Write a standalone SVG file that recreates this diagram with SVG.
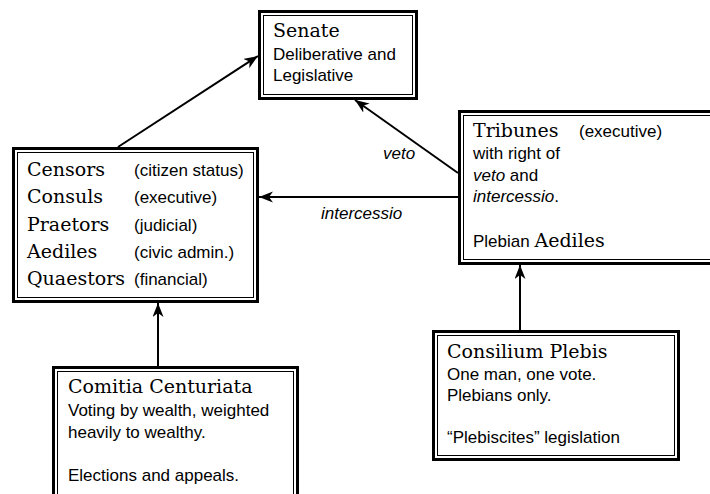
<svg xmlns="http://www.w3.org/2000/svg" width="710" height="494" viewBox="0 0 710 494">
  <defs>
    <marker id="arrow" markerWidth="15" markerHeight="12" refX="14" refY="5.5" orient="auto" markerUnits="userSpaceOnUse">
      <path d="M0,0 L14,5.5 L0,11 L4,5.5 Z" fill="#000"/>
    </marker>
  </defs>
  <style>
    .outer { fill: #fff; stroke: #000; stroke-width: 3; }
    .inner { fill: none; stroke: #000; stroke-width: 1; }
    .edge { fill: none; stroke: #000; stroke-width: 2; marker-end: url(#arrow); }
    .title { font-family: "DejaVu Serif", "Liberation Serif", serif; font-size: 19px; fill: #000; }
    .body { font-family: "Liberation Sans", Arial, sans-serif; font-size: 17px; fill: #000; }
    .lbl { font-family: "Liberation Sans", Arial, sans-serif; font-size: 17px; font-style: italic; fill: #000; }
    .it { font-style: italic; }
  </style>

  <rect width="710" height="494" fill="#fff"/>

  <!-- connectors -->
  <g id="connectors">
    <path class="edge" d="M118,147 L258,56"/>
    <path class="edge" d="M458,173 L355,100"/>
    <path class="edge" d="M458,197 L259,197"/>
    <path class="edge" d="M158,366 L158,303"/>
    <path class="edge" d="M520,330 L520,265"/>
    <text class="lbl" x="383" y="159">veto</text>
    <text class="lbl" x="321" y="219">intercessio</text>
  </g>

  <!-- Senate -->
  <g id="senate">
    <rect class="outer" x="259.5" y="11.5" width="157" height="87"/>
    <rect class="inner" x="263.5" y="15.5" width="149" height="79"/>
    <text class="title" x="273" y="37">Senate</text>
    <text class="body" x="273" y="60">Deliberative and</text>
    <text class="body" x="273" y="81">Legislative</text>
  </g>

  <!-- Magistrates -->
  <g id="magistrates">
    <rect class="outer" x="13.5" y="148.5" width="244" height="153"/>
    <rect class="inner" x="17.5" y="152.5" width="236" height="145"/>
    <text class="title" x="27" y="176">Censors</text>
    <text class="body" x="134" y="176">(citizen status)</text>
    <text class="title" x="27" y="203">Consuls</text>
    <text class="body" x="134" y="203">(executive)</text>
    <text class="title" x="27" y="231">Praetors</text>
    <text class="body" x="134" y="231">(judicial)</text>
    <text class="title" x="27" y="258">Aediles</text>
    <text class="body" x="134" y="258">(civic admin.)</text>
    <text class="title" x="27" y="285">Quaestors</text>
    <text class="body" x="134" y="285">(financial)</text>
  </g>

  <!-- Tribunes -->
  <g id="tribunes">
    <rect class="outer" x="459.5" y="111.5" width="262" height="152"/>
    <rect class="inner" x="463.5" y="115.5" width="254" height="144"/>
    <text class="title" x="473" y="137">Tribunes</text>
    <text class="body" x="579" y="137">(executive)</text>
    <text class="body" x="473" y="159">with right of</text>
    <text class="body" x="473" y="181"><tspan class="it">veto</tspan> and</text>
    <text class="body" x="473" y="202"><tspan class="it">intercessio</tspan>.</text>
    <text class="body" x="473" y="247">Plebian <tspan class="title">Aediles</tspan></text>
  </g>

  <!-- Comitia Centuriata -->
  <g id="comitia-centuriata">
    <rect class="outer" x="53.5" y="367.5" width="244" height="140"/>
    <rect class="inner" x="57.5" y="371.5" width="236" height="132"/>
    <text class="title" x="68" y="393">Comitia Centuriata</text>
    <text class="body" x="68" y="416">Voting by wealth, weighted</text>
    <text class="body" x="68" y="438">heavily to wealthy.</text>
    <text class="body" x="68" y="481">Elections and appeals.</text>
  </g>

  <!-- Consilium Plebis -->
  <g id="consilium-plebis">
    <rect class="outer" x="433.5" y="331.5" width="245" height="128"/>
    <rect class="inner" x="437.5" y="335.5" width="237" height="120"/>
    <text class="title" x="447" y="358">Consilium Plebis</text>
    <text class="body" x="447" y="380">One man, one vote.</text>
    <text class="body" x="447" y="401">Plebians only.</text>
    <text class="body" x="447" y="443">“Plebiscites” legislation</text>
  </g>
</svg>
